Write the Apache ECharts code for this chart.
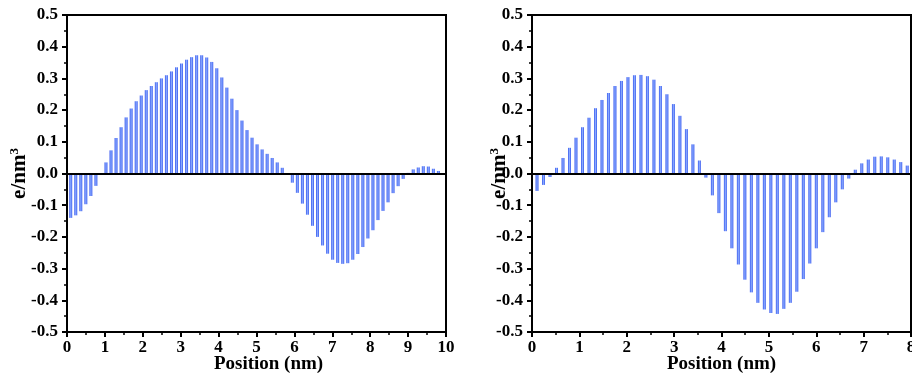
<!DOCTYPE html>
<html>
<head>
<meta charset="utf-8">
<title>Charge density profiles</title>
<script src="https://cdn.jsdelivr.net/npm/echarts@6/dist/echarts.min.js"></script>
<style>
  html, body { margin: 0; padding: 0; background: #fff; }
  #chart { width: 912px; height: 379px; }
</style>
</head>
<body>
<div id="chart"></div>
<script>
// Charge density (e/nm^3) sampled along the box, left panel: 0-10 nm
const leftStart = 0.098;
const leftStep = 0.1329;
const leftValues = [
  -0.140, -0.132, -0.119, -0.097, -0.071, -0.039,
  0.000,
  0.035, 0.073, 0.112, 0.146, 0.177, 0.205, 0.228, 0.246, 0.263, 0.276,
  0.288, 0.300, 0.310, 0.322, 0.335, 0.347, 0.359, 0.367, 0.373, 0.373,
  0.366, 0.352, 0.332, 0.303, 0.271, 0.236, 0.200, 0.167, 0.137, 0.113,
  0.092, 0.076, 0.062, 0.049, 0.035, 0.018,
  -0.002,
  -0.029, -0.061, -0.095, -0.130, -0.165, -0.200, -0.227, -0.253, -0.272,
  -0.282, -0.285, -0.283, -0.272, -0.254, -0.232, -0.205, -0.179, -0.147,
  -0.118, -0.091, -0.062, -0.040, -0.017,
  0.002,
  0.013, 0.019, 0.023, 0.022, 0.015, 0.008
];

// Right panel: 0-8 nm
const rightStart = 0.106;
const rightStep = 0.1371;
const rightValues = [
  -0.055, -0.036, -0.011,
  0.018, 0.049, 0.081, 0.113, 0.146, 0.176, 0.206, 0.232, 0.254, 0.276,
  0.292, 0.304, 0.310, 0.311, 0.307, 0.296, 0.276, 0.250, 0.219, 0.182,
  0.140, 0.092, 0.041,
  -0.013, -0.069, -0.125, -0.182, -0.236, -0.287, -0.335, -0.375, -0.408,
  -0.429, -0.440, -0.443, -0.427, -0.408, -0.373, -0.333, -0.284, -0.236,
  -0.185, -0.138, -0.091, -0.050, -0.016,
  0.012, 0.032, 0.044, 0.053, 0.054, 0.051, 0.044, 0.036, 0.025
];

const yTicks = { min: -0.5, max: 0.5, interval: 0.1 };
const leftX = { min: 0, max: 10, interval: 1 };
const rightX = { min: 0, max: 8, interval: 1 };

function toPairs(start, step, values) {
  return values.map((v, i) => [+(start + i * step).toFixed(4), v]);
}

const serif = '"Liberation Serif", "Times New Roman", serif';

const barFill = new echarts.graphic.LinearGradient(0, 0, 1, 0, [
  { offset: 0, color: '#3858ee' },
  { offset: 0.5, color: '#88a9ff' },
  { offset: 1, color: '#3858ee' }
]);

function xAxisFor(gridIndex, range, namePad) {
  return {
    type: 'value',
    gridIndex: gridIndex,
    min: range.min,
    max: range.max,
    interval: range.interval,
    name: 'Position (nm)',
    nameLocation: 'middle',
    nameGap: 23,
    nameMoveOverlap: false,
    nameTextStyle: {
      fontFamily: serif, fontWeight: 'bold', fontSize: 19, color: '#000',
      padding: namePad
    },
    axisLine: { onZero: false, lineStyle: { color: '#000', width: 2 } },
    axisTick: { length: 5, lineStyle: { color: '#000', width: 2 } },
    minorTick: { show: true, splitNumber: 2, length: 3, lineStyle: { color: '#000', width: 1.5 } },
    axisLabel: {
      margin: 7, fontFamily: serif, fontWeight: 'bold', fontSize: 17, color: '#000'
    },
    splitLine: { show: false }
  };
}

function yAxisFor(gridIndex, gap) {
  return {
    type: 'value',
    gridIndex: gridIndex,
    min: yTicks.min,
    max: yTicks.max,
    interval: yTicks.interval,
    name: 'e/nm{sup|3}',
    nameLocation: 'middle',
    nameGap: gap,
    nameRotate: 90,
    nameMoveOverlap: false,
    nameTextStyle: {
      fontFamily: serif, fontWeight: 'bold', fontSize: 21, color: '#000',
      rich: {
        sup: {
          fontFamily: serif, fontWeight: 'bold', fontSize: 13, color: '#000',
          verticalAlign: 'top', padding: [0, 0, 10, 0]
        }
      }
    },
    axisLine: { lineStyle: { color: '#000', width: 2 } },
    axisTick: { length: 5, lineStyle: { color: '#000', width: 2 } },
    minorTick: { show: true, splitNumber: 2, length: 3, lineStyle: { color: '#000', width: 1.5 } },
    axisLabel: {
      margin: 9, fontFamily: serif, fontWeight: 'bold', fontSize: 17, color: '#000',
      formatter: v => v.toFixed(1)
    },
    splitLine: { show: false }
  };
}

function barSeries(idx, data) {
  return {
    type: 'bar',
    xAxisIndex: idx,
    yAxisIndex: idx,
    data: data,
    barWidth: 3,
    itemStyle: { color: barFill },
    silent: true,
    markLine: {
      silent: true,
      symbol: 'none',
      label: { show: false },
      lineStyle: { color: '#000', width: 2, type: 'solid' },
      data: [{ yAxis: 0 }]
    },
    z: 2
  };
}

const chart = echarts.init(document.getElementById('chart'), null, { renderer: 'canvas' });
chart.setOption({
  animation: false,
  backgroundColor: '#fff',
  grid: [
    { left: 67, right: 466, top: 15, bottom: 47, show: true, borderColor: '#000', borderWidth: 2,
      containLabel: false, outerBoundsMode: 'none' },
    { left: 532, right: 1, top: 15, bottom: 47, show: true, borderColor: '#000', borderWidth: 2,
      containLabel: false, outerBoundsMode: 'none' }
  ],
  xAxis: [xAxisFor(0, leftX, [0, 0, 0, 24]), xAxisFor(1, rightX, [0, 0, 0, 0])],
  yAxis: [yAxisFor(0, 36), yAxisFor(1, 21)],
  series: [
    barSeries(0, toPairs(leftStart, leftStep, leftValues)),
    barSeries(1, toPairs(rightStart, rightStep, rightValues))
  ]
});
</script>
</body>
</html>
